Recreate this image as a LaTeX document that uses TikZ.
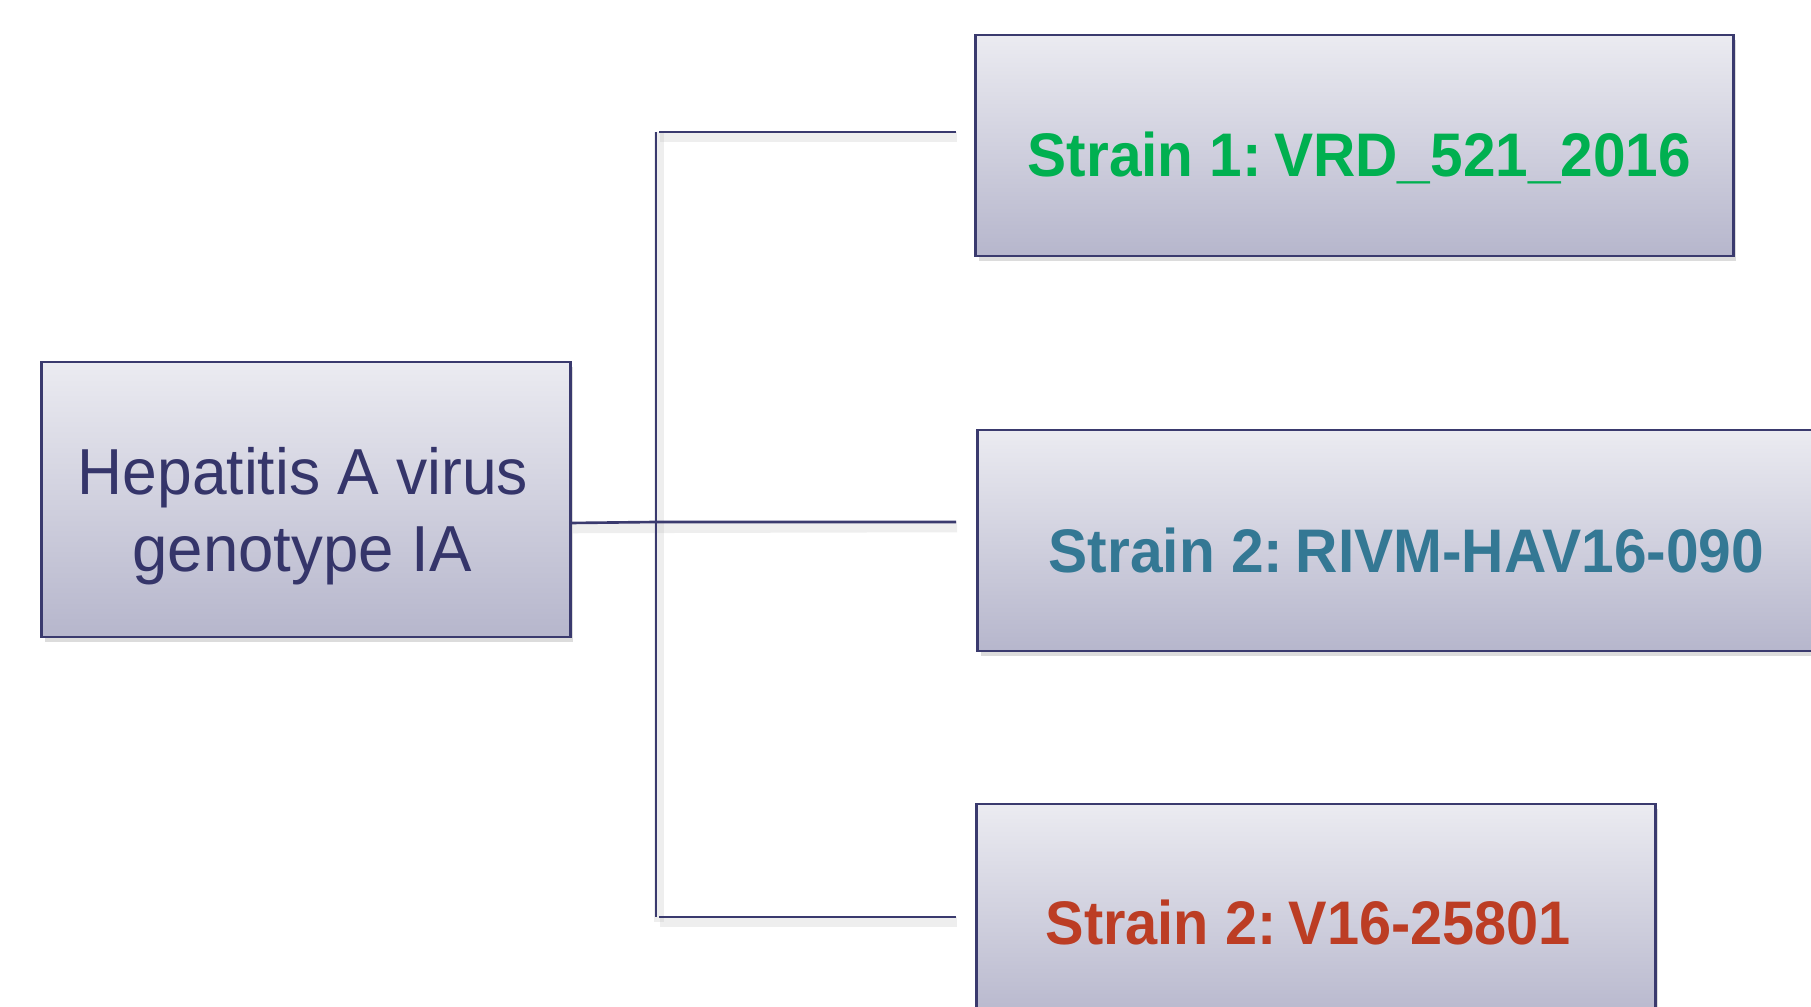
\documentclass[tikz,border=0pt]{standalone}
\usepackage{fontspec}
\setmainfont{Liberation Sans}
\usepackage{graphicx}
\usetikzlibrary{shadows}
\definecolor{navy}{HTML}{35356A}
\definecolor{edge}{HTML}{3A3A6E}
\definecolor{gtop}{HTML}{EBEBF1}
\definecolor{gbot}{HTML}{B6B6CC}
\definecolor{sgreen}{HTML}{00B050}
\definecolor{steal}{HTML}{347894}
\definecolor{sred}{HTML}{BC3D24}
\tikzset{
  box/.style={rectangle, draw=edge, line width=0.8pt, top color=gtop, bottom color=gbot,
    inner sep=0pt,
    drop shadow={shadow xshift=0.03cm, shadow yshift=-0.05cm, opacity=0.3, fill=black!45}},
  txt/.style={inner sep=0pt, anchor=base},
  strainfont/.style={font=\fontsize{17.5}{21}\selectfont\bfseries},
  conn/.style={draw=edge, line width=0.75pt},
  connshadow/.style={draw=black!30, opacity=0.22, line width=3pt}
}
\newcommand{\cs}{\hspace{0.21em}}
\begin{document}
\begin{tikzpicture}[x=0.01cm, y=-0.01cm]
\useasboundingbox (0,0) rectangle (1811,1007);
\clip (0,0) rectangle (1811,1007);

% coordinates of the bracket
\coordinate (jtop) at (656,132);
\coordinate (jbot) at (656,917);
\coordinate (jmid) at (656,522);
\coordinate (h1) at (659,132);
\coordinate (h3) at (659,917);
\coordinate (e1) at (956,132);
\coordinate (e2) at (956,522);
\coordinate (e3) at (956,917);

% boxes
\node[box, minimum width=5.28cm, minimum height=2.75cm] (hav) at (306,499.5) {};
\node[box, minimum width=7.57cm, minimum height=2.21cm] (s1) at (1354.5,145.5) {};
\node[box, minimum width=8.60cm, minimum height=2.21cm] (s2) at (1408,540.5) {};
\node[box, minimum width=6.78cm, minimum height=2.21cm] (s3) at (1316,914.5) {};
\coordinate (hs) at (hav.east |- 0,523);

% texts
\node[txt, text=navy, font=\fontsize{18.5}{22}\selectfont] (havA) at (303,495)
  {\resizebox{4.50cm}{\height}{Hepatitis A virus}};
\node[txt, text=navy, font=\fontsize{18.5}{22}\selectfont] (havB) at (302,572)
  {\resizebox{3.39cm}{\height}{genotype IA}};
\node[txt, strainfont, text=sgreen, anchor=base west] (t1) at (1027,177)
  {\resizebox{6.63cm}{\height}{Strain 1:\cs VRD\_521\_2016}};
\node[txt, strainfont, text=steal, anchor=base west] (t2) at (1048,573)
  {\resizebox{7.15cm}{\height}{Strain 2:\cs RIVM-HAV16-090}};
\node[txt, strainfont, text=sred, anchor=base west] (t3) at (1045,945)
  {\resizebox{5.25cm}{\height}{Strain 2:\cs V16-25801}};

% connector shadows
\draw[connshadow] ([shift={(1,5)}]h1) -- ([shift={(1,5)}]e1);
\draw[connshadow] ([shift={(1,5)}]hs) -- ([shift={(1,5)}]e2);
\draw[connshadow] ([shift={(1,5)}]h3) -- ([shift={(1,5)}]e3);
\draw[connshadow] ([shift={(3,0)}]jtop) -- ([shift={(3,5)}]jbot);

% connectors
\draw[conn] (jtop) -- (jbot);
\draw[conn] (h1) -- (e1);
\draw[conn] (hs) -- (jmid) -- (e2);
\draw[conn] (h3) -- (e3);
\end{tikzpicture}
\end{document}
